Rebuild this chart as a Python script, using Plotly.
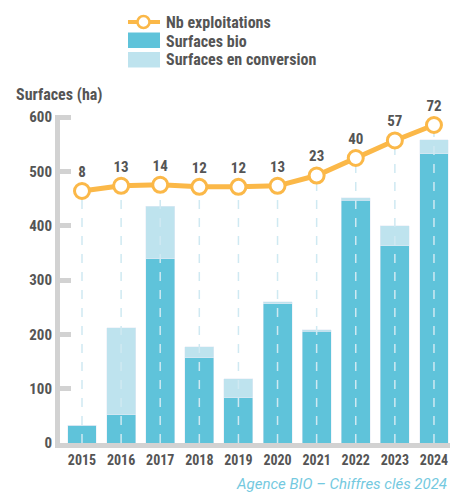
import plotly.graph_objects as go

years = ["2015", "2016", "2017", "2018", "2019", "2020", "2021", "2022", "2023", "2024"]
surf_bio = [33, 52, 339, 157, 83, 256, 206, 447, 363, 532]
surf_conv = [0, 160, 97, 20, 35, 4, 2, 4, 37, 26]
nb_expl = [8, 13, 14, 12, 12, 13, 23, 40, 57, 72]
y_ticks = [0, 100, 200, 300, 400, 500, 600]
legend_labels = ["Nb exploitations", "Surfaces bio", "Surfaces en conversion"]

FONT = "Roboto Condensed, DejaVu Sans Condensed, Liberation Sans Narrow, Roboto, sans-serif"
TXT = "#555555"
ORANGE = "#FBB848"
BIO = "#5FC3DA"
CONV = "#BEE3EE"
AXIS = "#D2D2D2"

Y2_MIN, Y2_MAX = -236.4, 81.7

# page has an 8px body margin: figure is sized/offset to compensate
OFF = 8
W, H = 467 - OFF, 493 - OFF
PL, PR, PT, PB = 60, 450, 115, 443  # plot box in window pixels


def px(xw):
    return (xw - PL) / (PR - PL)


def py(yw):
    return (PB - yw) / (PB - PT)


xs = list(range(len(years)))

gx, gy = [], []
for i, v in zip(xs, nb_expl):
    gx += [i, i, None]
    gy += [Y2_MIN, v, None]

fig = go.Figure()
fig.add_trace(go.Bar(x=xs, y=surf_bio, name=legend_labels[1], marker_color=BIO,
                     width=0.74, showlegend=False))
fig.add_trace(go.Bar(x=xs, y=surf_conv, name=legend_labels[2], marker_color=CONV,
                     width=0.74, showlegend=False))
fig.add_trace(go.Scatter(x=gx, y=gy, yaxis="y2", mode="lines", showlegend=False,
                         line=dict(color="#CFE9F2", width=1.5, dash="dash"),
                         hoverinfo="skip"))
fig.add_trace(go.Scatter(x=xs, y=nb_expl, yaxis="y2", name=legend_labels[0], showlegend=False,
                         mode="lines+markers+text", text=[str(v) for v in nb_expl],
                         textposition="top center",
                         textfont=dict(family=FONT, size=15, color=TXT, weight="bold"),
                         line=dict(color=ORANGE, width=5),
                         marker=dict(size=15, color="white", line=dict(color=ORANGE, width=3)),
                         cliponaxis=False))

# custom legend
shapes = [
    dict(type="line", xref="paper", yref="paper", x0=px(128), x1=px(160), y0=py(22), y1=py(22),
         line=dict(color=ORANGE, width=4)),
    dict(type="circle", xref="paper", yref="paper", x0=px(137.5), x1=px(149.5),
         y0=py(28), y1=py(16), fillcolor="white", line=dict(color=ORANGE, width=2.5)),
    dict(type="rect", xref="paper", yref="paper", x0=px(128), x1=px(160), y0=py(48), y1=py(32.5),
         fillcolor=BIO, line_width=0),
    dict(type="rect", xref="paper", yref="paper", x0=px(128), x1=px(160), y0=py(67.5), y1=py(52),
         fillcolor=CONV, line_width=0),
]
annotations = []
for lab, yy in zip(legend_labels, [22, 41, 60]):
    annotations.append(dict(text=lab, xref="paper", yref="paper", x=px(164), y=py(yy),
                            xanchor="left", yanchor="middle", showarrow=False,
                            font=dict(family=FONT, size=16, color=TXT, weight="bold")))
annotations += [
    dict(text="Surfaces (ha)", xref="paper", yref="paper", x=px(14), y=py(94),
         xanchor="left", yanchor="middle", showarrow=False,
         font=dict(family=FONT, size=16, color=TXT, weight="bold")),
    dict(text="<i>Agence BIO – Chiffres clés 2024</i>", xref="paper", yref="paper",
         x=px(449), y=py(484), xanchor="right", yanchor="middle", showarrow=False,
         font=dict(family="Roboto, sans-serif", size=15, color="#74C9E0", weight="normal")),
]

fig.update_layout(
    width=W, height=H,
    margin=dict(l=PL - OFF, r=467 - PR, t=PT - OFF, b=493 - PB, autoexpand=False),
    barmode="stack", bargap=0.26,
    plot_bgcolor="white", paper_bgcolor="white",
    font=dict(family=FONT, color=TXT, size=15),
    showlegend=False,
    xaxis=dict(range=[-0.5625, 9.41], tickmode="array", tickvals=xs, ticktext=years,
               showline=True, linecolor=AXIS, linewidth=5, ticks="", showgrid=False,
               zeroline=False, tickfont=dict(family=FONT, size=14, color=TXT, weight="bold")),
    yaxis=dict(range=[0, 603.7], tickmode="array", tickvals=y_ticks,
               showline=True, linecolor=AXIS, linewidth=5, ticks="inside", ticklen=11,
               tickwidth=5, tickcolor=AXIS, showgrid=False, zeroline=False,
               tickfont=dict(family=FONT, size=15, color=TXT, weight="bold")),
    yaxis2=dict(range=[Y2_MIN, Y2_MAX], overlaying="y", side="right", visible=False,
                showgrid=False, zeroline=False),
    shapes=shapes,
    annotations=annotations,
)

fig.write_html("out.html")
